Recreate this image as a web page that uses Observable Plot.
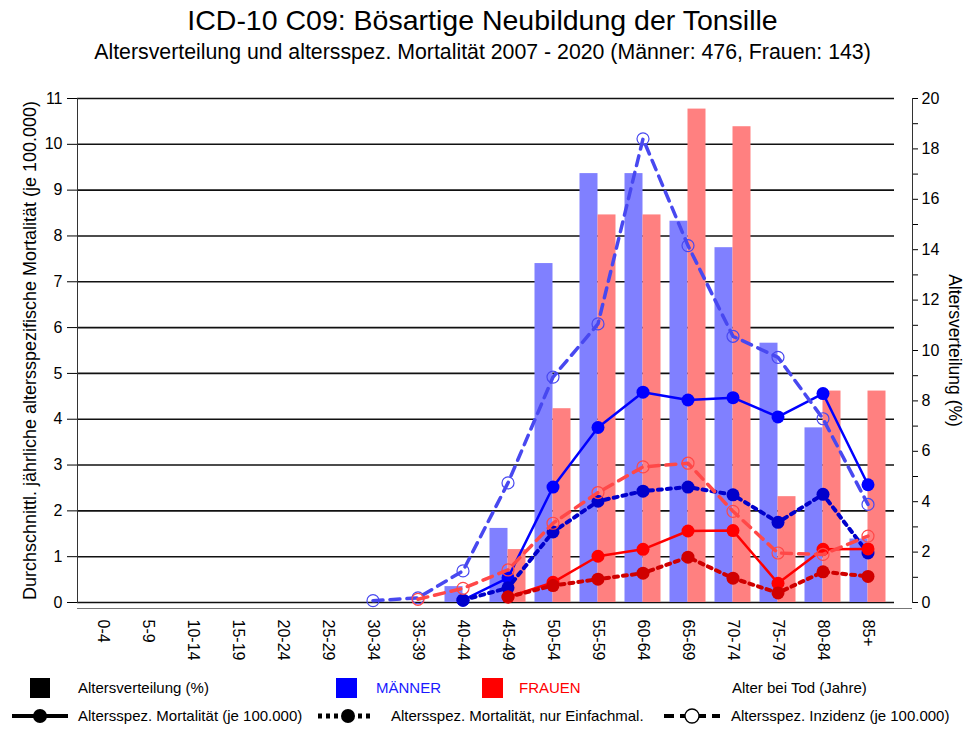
<!DOCTYPE html>
<html><head><meta charset="utf-8">
<script src="https://cdn.jsdelivr.net/npm/d3@7"></script>
<script src="https://cdn.jsdelivr.net/npm/@observablehq/plot@0.6"></script>
<style>
body{margin:0;background:#fff;font-family:"Liberation Sans",Arial,sans-serif;}
#wrap{position:relative;width:965px;height:729px;overflow:hidden;background:#fff;}
#chart{position:absolute;left:0;top:0;}
#title{position:absolute;left:0;top:4px;width:965px;text-align:center;font-size:28.5px;line-height:32px;color:#000;}
#subtitle{position:absolute;left:0;top:40px;width:965px;text-align:center;font-size:21.3px;line-height:24px;color:#000;}
#legend{position:absolute;left:0;top:670px;}
#legend text{font-family:"Liberation Sans",Arial,sans-serif;font-size:15px;}
</style></head>
<body>
<div id="wrap">
  <div id="chart"></div>
  <div id="title">ICD-10 C09: Bösartige Neubildung der Tonsille</div>
  <div id="subtitle">Altersverteilung und altersspez. Mortalität 2007 - 2020 (Männer: 476, Frauen: 143)</div>
  <svg id="legend" width="965" height="59">
    <rect x="30" y="8" width="20" height="20" fill="#000"/>
    <text x="78" y="23">Altersverteilung (%)</text>
    <rect x="336" y="8" width="21" height="20" fill="#0000ff"/>
    <text x="376" y="23" fill="#1a1aff">MÄNNER</text>
    <rect x="482" y="8" width="21" height="20" fill="#ff0000"/>
    <text x="519" y="23" fill="#ff0000">FRAUEN</text>
    <text x="732" y="23">Alter bei Tod (Jahre)</text>
    <line x1="12" y1="46" x2="68" y2="46" stroke="#000" stroke-width="4"/>
    <circle cx="40" cy="46" r="7" fill="#000"/>
    <text x="78" y="51">Altersspez. Mortalität (je 100.000)</text>
    <line x1="318" y1="46" x2="374" y2="46" stroke="#000" stroke-width="5" stroke-dasharray="4,4"/>
    <circle cx="348" cy="46" r="7" fill="#000"/>
    <text x="391" y="51">Altersspez. Mortalität, nur Einfachmal.</text>
    <line x1="664" y1="46" x2="720" y2="46" stroke="#000" stroke-width="4" stroke-dasharray="10,6"/>
    <circle cx="692" cy="46" r="7" fill="#fff" stroke="#000" stroke-width="1.3"/>
    <text x="731" y="51">Altersspez. Inzidenz (je 100.000)</text>
  </svg>
</div>
<script>
// ---- data ----
const ages = ["0-4","5-9","10-14","15-19","20-24","25-29","30-34","35-39","40-44","45-49","50-54","55-59","60-64","65-69","70-74","75-79","80-84","85+"];
// Altersverteilung (%) – right axis
const menPct   = [0,0,0,0,0,0,0,0,0.63,2.94,13.45,17.02,17.02,15.13,14.08,10.29,6.93,2.52];
const womenPct = [0,0,0,0,0,0,0,0,0,2.10,7.69,15.38,15.38,19.58,18.88,4.20,8.39,8.39];
// per 100.000 – left axis
const menMort        = [null,null,null,null,null,null,null,null,0.05,0.54,2.52,3.82,4.59,4.42,4.47,4.05,4.56,2.57];
const menMortSingle  = [null,null,null,null,null,null,null,null,0.05,0.32,1.54,2.21,2.43,2.52,2.35,1.75,2.36,1.08];
const menInc         = [null,null,null,null,null,null,0.04,0.10,0.69,2.61,4.92,6.08,10.12,7.79,5.81,5.35,4.01,2.14];
const womenMort      = [null,null,null,null,null,null,null,null,null,0.12,0.44,1.01,1.16,1.56,1.57,0.42,1.16,1.17];
const womenMortSingle= [null,null,null,null,null,null,null,null,null,0.12,0.37,0.51,0.64,0.99,0.53,0.21,0.67,0.57];
const womenInc       = [null,null,null,null,null,null,null,0.07,0.31,0.71,1.73,2.40,2.96,3.04,1.99,1.08,1.05,1.45];
const leftTicks  = [0,1,2,3,4,5,6,7,8,9,10,11];
const rightTicks = [0,1,2,3,4,5,6,7,8,9,10,11,12,13,14,15,16,17,18,19,20];
const yLabel  = "Durchschnittl. jährliche altersspezifische Mortalität (je 100.000)";
const y2Label = "Altersverteilung (%)";

// ---- build ----
const K = 11/20; // right axis (0–20 %) shares the pixel range of the left axis (0–11)
const bars = ages.map((age,i)=>({age, men: menPct[i], women: womenPct[i]}));
const ser = vals => ages.map((age,i)=>({age, v: vals[i]})).filter(d=>d.v!=null);

function solid(vals, color){
  const d = ser(vals);
  return [Plot.line(d,{x:"age",y:"v",stroke:color,strokeWidth:2.5}),
          Plot.dot(d,{x:"age",y:"v",r:6.5,fill:color,stroke:"none"})];
}
function dotted(vals, color){
  const d = ser(vals);
  return [Plot.line(d,{x:"age",y:"v",stroke:color,strokeWidth:4,strokeDasharray:"4,5"}),
          Plot.dot(d,{x:"age",y:"v",r:6.5,fill:color,stroke:"none"})];
}
function dashed(vals, color){
  const d = ser(vals);
  return [Plot.line(d,{x:"age",y:"v",stroke:color,strokeWidth:3.5,strokeDasharray:"10,7"}),
          Plot.dot(d,{x:"age",y:"v",r:6,fill:"none",stroke:color,strokeWidth:1.2})];
}

const chart = Plot.plot({
  width:965, height:729,
  marginTop:98, marginBottom:127, marginLeft:77, marginRight:53,
  style:{fontFamily:'"Liberation Sans", Arial, sans-serif', fontSize:"16px", background:"transparent", color:"#000"},
  x:{type:"band", domain:ages, range:[79.5,889.5], padding:0},
  y:{domain:[0,11]},
  marks:[
    Plot.ruleY(leftTicks,{stroke:"#111",strokeWidth:1.6,insetRight:18}),
    Plot.barY(bars.filter(d=>d.men>0),{x:"age",y:d=>d.men*K,fill:"#8080ff",insetLeft:4.5,insetRight:22.5}),
    Plot.barY(bars.filter(d=>d.women>0),{x:"age",y:d=>d.women*K,fill:"#ff8080",insetLeft:22.5,insetRight:4.5}),
    ...solid(menMort,"#0000ff"),
    ...dotted(menMortSingle,"#0000cc"),
    ...dashed(menInc,"#4848f0"),
    ...solid(womenMort,"#ff0000"),
    ...dotted(womenMortSingle,"#d00000"),
    ...dashed(womenInc,"#ff4848"),
    Plot.axisY(leftTicks,{anchor:"left",tickSize:10,tickPadding:5,label:null}),
    Plot.axisY(rightTicks.map(p=>p*K),{anchor:"right",tickSize:5,tickPadding:4,label:null,
      tickFormat:v=>{const p=Math.round(v/K); return p%2===0?String(p):"";}}),
    Plot.axisX({anchor:"bottom",tickSize:0,tickPadding:17,tickRotate:90,label:null}),
    Plot.frame({anchor:"left",stroke:"#333"}),
    Plot.frame({anchor:"right",stroke:"#333"}),
    Plot.ruleY([0],{dy:6,stroke:"#777",strokeWidth:1.2}),
    Plot.text([yLabel],{frameAnchor:"left",textAnchor:"middle",dx:-47,rotate:-90,fontSize:18}),
    Plot.text([y2Label],{frameAnchor:"right",textAnchor:"middle",dx:42,rotate:90,fontSize:17.5})
  ]
});
document.getElementById("chart").appendChild(chart);
</script>
</body></html>
